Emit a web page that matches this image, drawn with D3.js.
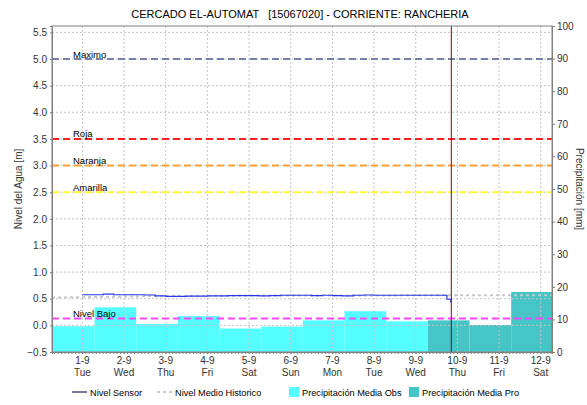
<!DOCTYPE html>
<html>
<head>
<meta charset="utf-8">
<script src="https://cdn.jsdelivr.net/npm/d3@7"></script>
<style>
body{margin:0;background:#fff;}
text{font-family:"Liberation Sans",Arial,sans-serif;}
</style>
</head>
<body>
<div id="chart"></div>
<script>
// ticks del eje x
const tickDates=["2015-09-01 00:00","2015-09-02 00:00","2015-09-03 00:00","2015-09-04 00:00","2015-09-05 00:00","2015-09-06 00:00",
    "2015-09-07 00:00","2015-09-08 00:00","2015-09-09 00:00","2015-09-10 00:00","2015-09-11 00:00","2015-09-12 00:00"];
const tickDays=["1-9","2-9","3-9","4-9","5-9","6-9","7-9","8-9","9-9","10-9","11-9","12-9"];
const tickWeekdays=["Tue","Wed","Thu","Fri","Sat","Sun","Mon","Tue","Wed","Thu","Fri","Sat"];

// precipitacion diaria (dia hidrologico 7am-7am)
const precipStarts=["2015-08-31 07:00","2015-09-01 07:00","2015-09-02 07:00","2015-09-03 07:00","2015-09-04 07:00","2015-09-05 07:00",
    "2015-09-06 07:00","2015-09-07 07:00","2015-09-08 07:00","2015-09-09 07:00","2015-09-10 07:00","2015-09-11 07:00"];
const precipObs=[7.9,13.7,8.6,11.0,7.2,7.8,9.7,12.5,9.4];
const precipPro=[9.7,8.3,18.4];

// umbrales
const thresholdNames=["Maximo","Roja","Naranja","Amarilla","Nivel Bajo"];
const thresholdValues=[5.0,3.5,3.0,2.5,0.13];

// nivel sensor
const sensorTimes=["2015-09-01 00:00","2015-09-01 06:00","2015-09-01 12:00","2015-09-01 18:00",
    "2015-09-02 00:00","2015-09-02 06:00","2015-09-02 12:00","2015-09-02 18:00",
    "2015-09-03 00:00","2015-09-03 06:00","2015-09-03 12:00","2015-09-03 18:00",
    "2015-09-04 00:00","2015-09-04 06:00","2015-09-04 12:00","2015-09-04 18:00",
    "2015-09-05 00:00","2015-09-05 06:00","2015-09-05 12:00","2015-09-05 18:00",
    "2015-09-06 00:00","2015-09-06 06:00","2015-09-06 12:00","2015-09-06 18:00",
    "2015-09-07 00:00","2015-09-07 06:00","2015-09-07 12:00","2015-09-07 18:00",
    "2015-09-08 00:00","2015-09-08 06:00","2015-09-08 12:00","2015-09-08 18:00",
    "2015-09-09 00:00","2015-09-09 06:00","2015-09-09 12:00","2015-09-09 17:30",
    "2015-09-09 18:00","2015-09-09 20:00","2015-09-09 20:15","2015-09-09 20:30"];
const sensorLevels=[0.575,0.575,0.585,0.575,
    0.575,0.575,0.57,0.555,
    0.545,0.545,0.55,0.55,
    0.555,0.555,0.56,0.56,
    0.56,0.555,0.56,0.565,
    0.565,0.565,0.56,0.565,
    0.56,0.555,0.565,0.57,
    0.565,0.565,0.565,0.565,
    0.565,0.565,0.565,0.56,
    0.49,0.49,0.44,0.44];

// nivel medio historico
const historicTimes=["2015-08-31 06:30","2015-09-01 00:00","2015-09-02 00:00","2015-09-03 00:00","2015-09-04 00:00","2015-09-05 00:00",
    "2015-09-06 00:00","2015-09-07 00:00","2015-09-08 00:00","2015-09-09 00:00","2015-09-10 00:00","2015-09-11 00:00","2015-09-12 00:00","2015-09-12 06:30"];
const historicLevels=[0.52,0.53,0.54,0.55,0.555,0.56,0.56,0.56,0.56,0.565,0.565,0.565,0.565,0.565];

const nowTime="2015-09-09 20:30";

const parse=d3.timeParse("%Y-%m-%d %H:%M");
const width=587,height=405;
const mLeft=52,mRight=552,mTop=26,mBottom=352;

const svg=d3.select("#chart").append("svg")
    .attr("width",width)
    .attr("height",height);

const x=d3.scaleTime()
    .domain([parse("2015-08-31 06:30"),parse("2015-09-12 06:30")])
    .range([mLeft,mRight]);
const yL=d3.scaleLinear().domain([-0.5,5.62]).range([mBottom,mTop]);
const yR=d3.scaleLinear().domain([0,100]).range([mBottom,mTop]);

svg.append("defs").append("clipPath").attr("id","plot")
    .append("rect").attr("x",mLeft).attr("y",mTop).attr("width",mRight-mLeft).attr("height",mBottom-mTop);

const plot=svg.append("g").attr("clip-path","url(#plot)");

// barras de precipitacion
const bars=precipStarts.map((s,i)=>{
    const t0=parse(s);
    const t1=d3.timeDay.offset(t0,1);
    const obs=i<precipObs.length;
    return {t0,t1,v:obs?precipObs[i]:precipPro[i-precipObs.length],obs};
});
plot.selectAll("rect.bar")
    .data(bars)
    .join("rect")
    .attr("class","bar")
    .attr("x",(d,i)=>i==0?mLeft:x(d.t0))
    .attr("width",(d,i)=>x(d.t1)-(i==0?mLeft:x(d.t0)))
    .attr("y",d=>yR(d.v))
    .attr("height",d=>yR(0)-yR(d.v))
    .attr("fill",d=>d.obs?"#55FFFF":"#45C5C5");

// grid
const leftTicks=d3.range(-0.5,5.51,0.5);
plot.append("g")
    .selectAll("line")
    .data(leftTicks)
    .join("line")
    .attr("x1",mLeft).attr("x2",mRight)
    .attr("y1",d=>yL(d)).attr("y2",d=>yL(d))
    .attr("stroke","#c4c4c4")
    .attr("stroke-dasharray","2,2");
plot.append("g")
    .selectAll("line")
    .data(tickDates)
    .join("line")
    .attr("x1",d=>x(parse(d))).attr("x2",d=>x(parse(d)))
    .attr("y1",mTop).attr("y2",mBottom)
    .attr("stroke","#c4c4c4")
    .attr("stroke-dasharray","2,2");

// umbrales
const thresholdColors=["#7880A8","#FF2020","#FFA030","#FFFF30","#FF44FF"];
plot.append("g")
    .selectAll("line")
    .data(thresholdValues)
    .join("line")
    .attr("x1",mLeft).attr("x2",mRight)
    .attr("y1",d=>yL(d)).attr("y2",d=>yL(d))
    .attr("stroke",(d,i)=>thresholdColors[i])
    .attr("stroke-width",2)
    .attr("stroke-dasharray","7,4");
plot.append("g")
    .selectAll("text")
    .data(thresholdNames)
    .join("text")
    .attr("x",73)
    .attr("y",(d,i)=>yL(thresholdValues[i])-1.5)
    .attr("font-size",9.5)
    .attr("fill","#000")
    .text(d=>d);

// nivel medio historico
const histLine=d3.line().x(d=>x(d[0])).y(d=>yL(d[1]));
plot.append("path")
    .datum(historicTimes.map((t,i)=>[parse(t),historicLevels[i]]))
    .attr("d",histLine)
    .attr("fill","none")
    .attr("stroke","#c8c8c8")
    .attr("stroke-width",2)
    .attr("stroke-dasharray","3,3");

// nivel sensor
const sensor=sensorTimes.map((t,i)=>[parse(t),sensorLevels[i]]);
plot.append("path")
    .datum(sensor)
    .attr("d",d3.line().x(d=>x(d[0])).y(d=>yL(d[1])).curve(d3.curveStepAfter))
    .attr("fill","none")
    .attr("stroke","#2838E8")
    .attr("stroke-width",1.2);

// linea de ahora
plot.append("line")
    .attr("x1",x(parse(nowTime))).attr("x2",x(parse(nowTime)))
    .attr("y1",mTop).attr("y2",mBottom)
    .attr("stroke","#6a1010")
    .attr("stroke-width",1);

// borde
svg.append("rect")
    .attr("x",mLeft).attr("y",mTop)
    .attr("width",mRight-mLeft).attr("height",mBottom-mTop)
    .attr("fill","none")
    .attr("stroke","#808080");

// ejes
const axL=svg.append("g")
    .attr("transform",`translate(${mLeft},0)`)
    .call(d3.axisLeft(yL).tickValues(leftTicks).tickFormat(d3.format(".1f")).tickSize(2).tickPadding(3));
const axR=svg.append("g")
    .attr("transform",`translate(${mRight},0)`)
    .call(d3.axisRight(yR).tickValues(d3.range(0,101,10)).tickSize(3).tickPadding(2));
const axB=svg.append("g")
    .attr("transform",`translate(0,${mBottom})`)
    .call(d3.axisBottom(x).tickValues(tickDates.map(parse)).tickSize(2).tickFormat(""));
[axL,axR,axB].forEach(a=>{
    a.select(".domain").attr("stroke","#808080");
    a.selectAll(".tick line").attr("stroke","#808080");
    a.selectAll(".tick text").attr("font-size",10).attr("fill","#333").attr("font-family","Liberation Sans, Arial, sans-serif");
});
// ticks menores cada 2 horas
svg.append("g")
    .selectAll("line")
    .data(d3.timeHour.every(2).range(x.domain()[0],x.domain()[1]))
    .join("line")
    .attr("x1",d=>x(d)).attr("x2",d=>x(d))
    .attr("y1",mBottom).attr("y2",mBottom+2)
    .attr("stroke","#808080");

const xLab=svg.append("g");
xLab.selectAll("text")
    .data(tickDates)
    .join("text")
    .attr("x",d=>x(parse(d)))
    .attr("y",364)
    .attr("text-anchor","middle")
    .attr("font-size",10)
    .attr("fill","#333")
    .each(function(d,i){
        const t=d3.select(this);
        t.append("tspan").attr("x",x(parse(d))).text(tickDays[i]);
        t.append("tspan").attr("x",x(parse(d))).attr("dy",12).text(tickWeekdays[i]);
    });

// titulos
svg.append("text")
    .attr("x",300).attr("y",18)
    .attr("text-anchor","middle")
    .attr("font-size",11)
    .attr("fill","#000")
    .attr("xml:space","preserve")
    .text("CERCADO EL-AUTOMAT   [15067020] - CORRIENTE: RANCHERIA");
svg.append("text")
    .attr("transform",`translate(22,${(mTop+mBottom)/2}) rotate(-90)`)
    .attr("text-anchor","middle")
    .attr("font-size",10)
    .attr("fill","#333")
    .text("Nivel del Agua [m]");
svg.append("text")
    .attr("transform",`translate(576,${(mTop+mBottom)/2}) rotate(90)`)
    .attr("text-anchor","middle")
    .attr("font-size",10)
    .attr("fill","#333")
    .text("Precipitación [mm]");

// leyenda
const legendY=396;
const lg=svg.append("g").attr("font-size",9.2);
lg.append("line").attr("x1",72).attr("x2",87).attr("y1",legendY-4).attr("y2",legendY-4).attr("stroke","#202050").attr("stroke-width",1.2);
lg.append("text").attr("x",90).attr("y",legendY).text("Nivel Sensor");
lg.append("line").attr("x1",157).attr("x2",172).attr("y1",legendY-4).attr("y2",legendY-4).attr("stroke","#c8c8c8").attr("stroke-width",2).attr("stroke-dasharray","3,3");
lg.append("text").attr("x",175).attr("y",legendY).text("Nivel Medio Historico");
lg.append("rect").attr("x",289).attr("y",legendY-9).attr("width",10).attr("height",10).attr("fill","#55FFFF");
lg.append("text").attr("x",302).attr("y",legendY).text("Precipitación Media Obs");
lg.append("rect").attr("x",409).attr("y",legendY-9).attr("width",10).attr("height",10).attr("fill","#45C5C5");
lg.append("text").attr("x",422).attr("y",legendY).text("Precipitación Media Pro");
lg.selectAll("text").attr("fill","#000");
</script>
</body>
</html>
